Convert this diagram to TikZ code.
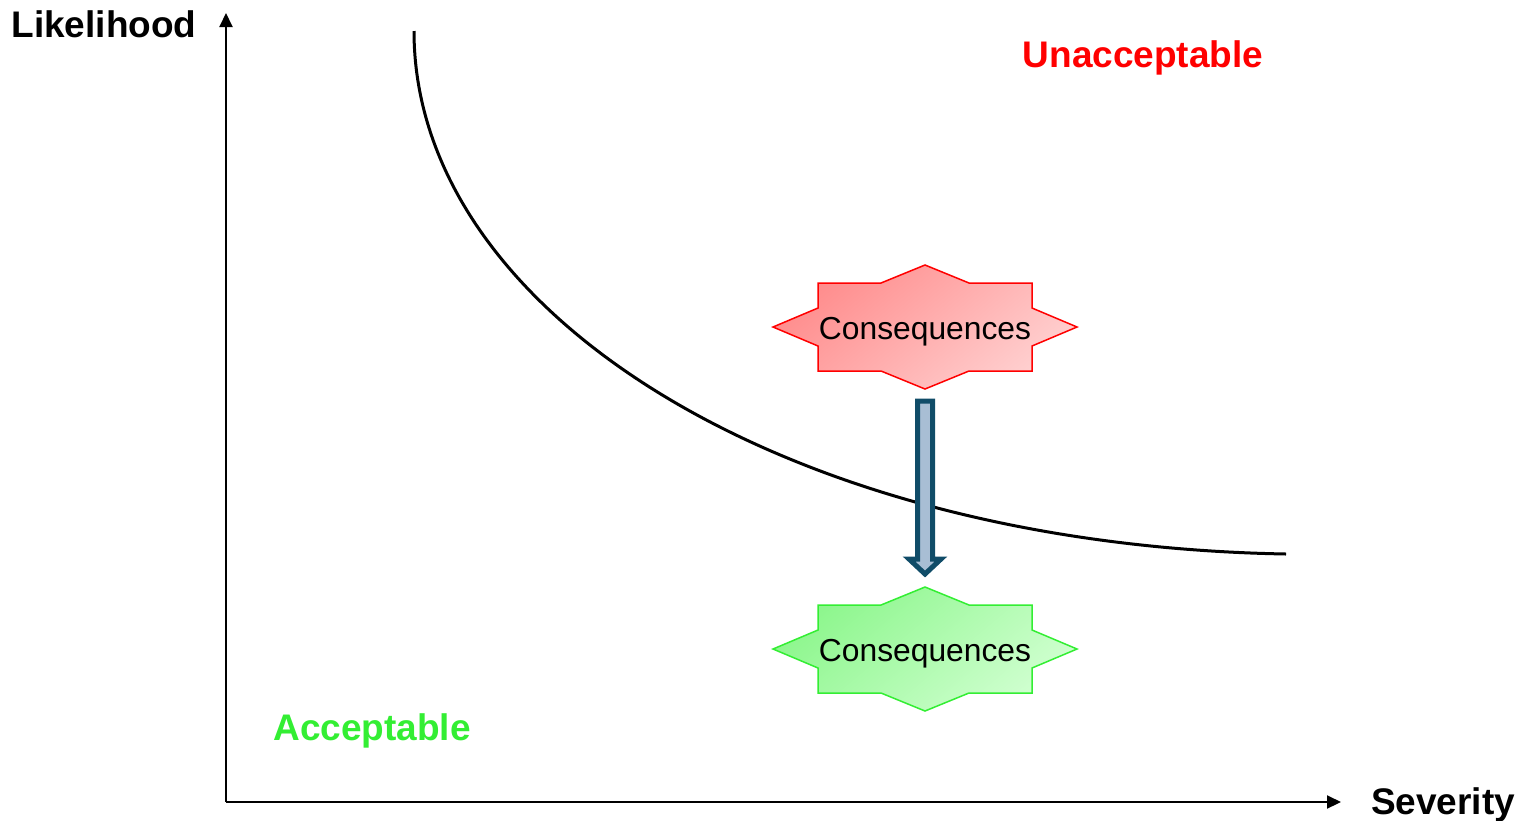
\documentclass[tikz,border=0pt]{standalone}
\usepackage{fontspec}
\setmainfont{Liberation Sans}
\usetikzlibrary{arrows.meta,calc}
\definecolor{redline}{RGB}{255,0,0}
\definecolor{redA}{RGB}{255,140,140}
\definecolor{redB}{RGB}{255,208,208}
\definecolor{greenline}{RGB}{51,238,51}
\definecolor{greenA}{RGB}{140,246,140}
\definecolor{greenB}{RGB}{208,255,208}
\definecolor{arrowline}{RGB}{16,76,104}
\definecolor{arrowfill}{RGB}{168,190,212}
\definecolor{acc}{RGB}{51,238,51}
\definecolor{unacc}{RGB}{255,0,0}
\tikzset{
  axisline/.style={line width=1pt,-{Triangle[length=7pt,width=6.5pt]}},
  bigbold/.style={font=\fontsize{18.5pt}{20pt}\selectfont\bfseries,inner sep=0pt},
  conslabel/.style={font=\fontsize{15.9pt}{18pt}\selectfont,inner sep=0pt,text=black},
  redstar/.style={top color=redA,bottom color=redB,shading angle=40},
  greenstar/.style={top color=greenA,bottom color=greenB,shading angle=40},
  blockarrow/.style={draw=arrowline,fill=arrowfill,line width=2.5pt,miter limit=10},
}
\newcommand{\starshape}{(0,-62) -- (44,-44) -- (107,-44) -- (107,-19) -- (152,0) -- (107,19) -- (107,44) -- (44,44) -- (0,62) -- (-44,44) -- (-107,44) -- (-107,19) -- (-152,0) -- (-107,-19) -- (-107,-44) -- (-44,-44) -- cycle}
\begin{document}
\begin{tikzpicture}[x=0.5pt,y=-0.5pt]
\useasboundingbox (0,0) rectangle (1535,820);
% axes
\coordinate (origin) at (226,802);
\coordinate (ytip) at (226,13);
\coordinate (xtip) at (1341,802);
\draw[axisline] (origin) -- (ytip);
\draw[axisline] (origin) -- (xtip);
% axis labels
\node[bigbold,anchor=base] (likelihood) at (104,37) {Likelihood};
\node[bigbold,anchor=base] (severity) at (1443,814) {Severity};
\node[bigbold,anchor=base,text=unacc] (unacceptable) at (1143,67) {Unacceptable};
\node[bigbold,anchor=base,text=acc] (acceptable) at (372,740) {Acceptable};
% risk curve
\coordinate (cstart) at (414,31);
\coordinate (cend) at (1286,554);
\draw[line width=1.5pt] (cstart) .. controls (414,310) and (780,545) .. (cend);
% stars
\shade[redstar,shift={(925,327)}] \starshape;
\draw[draw=redline,line width=0.75pt,shift={(925,327)}] \starshape;
\node[conslabel] (redcons) at (925,332) {Consequences};
\shade[greenstar,shift={(925,649)}] \starshape;
\draw[draw=greenline,line width=0.75pt,shift={(925,649)}] \starshape;
\node[conslabel] (greencons) at (925,654) {Consequences};
% block arrow between the stars
\coordinate (atop) at (925,401);
\coordinate (atip) at (925,574);
\draw[blockarrow] ($(atop)+(-7.5,0)$) -- ($(atop)+(7.5,0)$) -- ($(atip)+(7.5,-15)$) -- ($(atip)+(16,-15)$) -- (atip) -- ($(atip)+(-16,-15)$) -- ($(atip)+(-7.5,-15)$) -- cycle;
\end{tikzpicture}
\end{document}
